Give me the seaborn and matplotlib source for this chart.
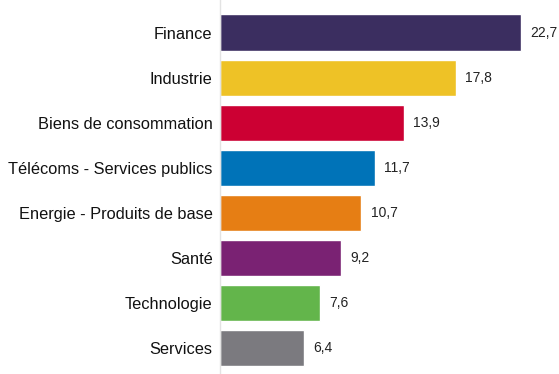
import matplotlib
matplotlib.use("Agg")
import matplotlib.pyplot as plt
import seaborn as sns
import pandas as pd

# Sector weights (%)
sectors = [
    "Finance",
    "Industrie",
    "Biens de consommation",
    "Télécoms - Services publics",
    "Energie - Produits de base",
    "Santé",
    "Technologie",
    "Services",
]
weights = [22.7, 17.8, 13.9, 11.7, 10.7, 9.2, 7.6, 6.4]
colors = ["#3b2e60", "#eec226", "#cc0033", "#0073b8", "#e67e14",
          "#7a2273", "#63b54b", "#7b7a7f"]

sns.set_theme(style="white")
plt.rcParams["font.family"] = ["Liberation Sans", "DejaVu Sans"]

df = pd.DataFrame({"sector": sectors, "weight": weights})

W, H = 559, 374
fig = plt.figure(figsize=(W / 100, H / 100), dpi=100)
ax = fig.add_axes([219.5 / W, 0, 1 - 219.5 / W, 1])

sns.barplot(data=df, x="weight", y="sector", hue="sector", palette=colors,
            order=sectors, hue_order=sectors, legend=False, width=0.8,
            saturation=1, ax=ax)

for patch, v in zip(ax.patches, weights):
    ax.text(v + 0.7, patch.get_y() + patch.get_height() / 2,
            f"{v:.1f}".replace(".", ","), va="center", ha="left",
            fontsize=10, color="#222222")

ax.set_xlim(0, (W - 219.5) / 13.26)
ax.set_ylim(7 + 26 / 45.07, -32.5 / 45.07)
ax.set_xlabel("")
ax.set_ylabel("")
ax.set_xticks([])
ax.tick_params(axis="y", length=0, pad=5, labelsize=11.8, labelcolor="#111111")
for side in ["top", "right", "bottom"]:
    ax.spines[side].set_visible(False)
ax.spines["left"].set_color("#e3e3e3")
ax.spines["left"].set_linewidth(1)

fig.savefig("out.png", dpi=100)
